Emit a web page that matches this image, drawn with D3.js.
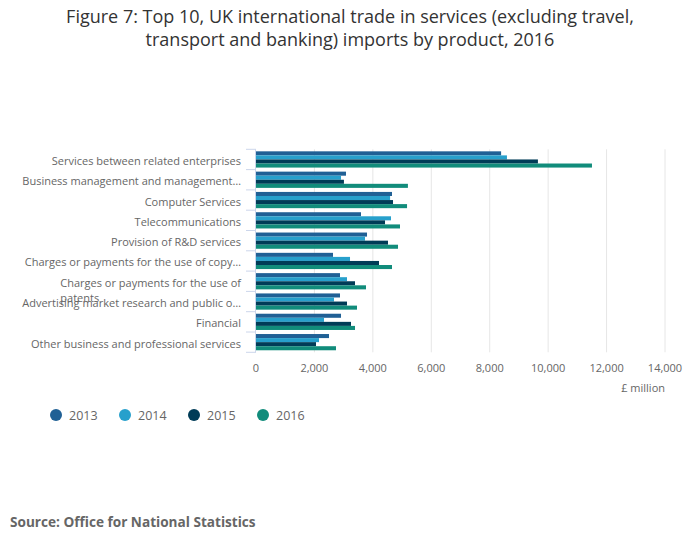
<!DOCTYPE html>
<html>
<head>
<meta charset="utf-8">
<script src="https://cdn.jsdelivr.net/npm/d3@7"></script>
<style>
  body { margin: 0; background: #fff; }
  svg { font-family: "Open Sans", sans-serif; }
</style>
</head>
<body>
<svg width="700" height="549"></svg>
<script>
// chart data
var categories = [
    "Services between related enterprises",
    "Business management and management\u2026",
    "Computer Services",
    "Telecommunications",
    "Provision of R&D services",
    "Charges or payments for the use of copy\u2026",
    "Charges or payments for the use of patents",
    "Advertising market research and public o\u2026",
    "Financial",
    "Other business and professional services"
];
var years = ["2013", "2014", "2015", "2016"];
var values2013 = [8390, 3080, 4655, 3594, 3800, 2636, 2875, 2875, 2910, 2499];
var values2014 = [8590, 2910, 4590, 4621, 3731, 3218, 3115, 2670, 2328, 2157];
var values2015 = [9650, 3010, 4690, 4416, 4518, 4210, 3389, 3115, 3252, 2054];
var values2016 = [11500, 5200, 5170, 4929, 4861, 4655, 3765, 3457, 3389, 2738];
var xTicks = [0, 2000, 4000, 6000, 8000, 10000, 12000, 14000];
var colours = ["#206095", "#27a0cc", "#003c57", "#118c7b"];

function main() {
    var svg = d3.select("svg");
    var seriesValues = [values2013, values2014, values2015, values2016];

    var left = 256, right = 665, top = 149.3, bottom = 352.3;

    // title
    var title = svg.append("text")
        .attr("text-anchor", "middle")
        .attr("font-size", "18px")
        .attr("fill", "#333333");
    title.append("tspan").attr("x", 350).attr("y", 23)
        .text("Figure 7: Top 10, UK international trade in services (excluding travel,");
    title.append("tspan").attr("x", 350).attr("y", 46)
        .text("transport and banking) imports by product, 2016");

    var xScale = d3.scaleLinear().domain([0, 14000]).range([left, right]);
    var yScale = d3.scaleBand().domain(categories).range([top, bottom]);
    var inner = d3.scaleBand().domain(years)
        .range([yScale.bandwidth() * 0.1, yScale.bandwidth() * 0.9]);

    // grid lines
    svg.append("g").selectAll("line")
        .data(xTicks.slice(1))
        .enter().append("line")
        .attr("x1", function (d) { return xScale(d); })
        .attr("x2", function (d) { return xScale(d); })
        .attr("y1", top)
        .attr("y2", bottom)
        .attr("stroke", "#e6e6e6")
        .attr("stroke-width", 1);

    // x tick labels
    svg.append("g").selectAll("text")
        .data(xTicks)
        .enter().append("text")
        .attr("x", function (d) { return xScale(d); })
        .attr("y", 372)
        .attr("text-anchor", "middle")
        .attr("font-size", "11px")
        .attr("fill", "#666666")
        .text(function (d) { return d3.format(",")(d); });

    svg.append("text")
        .attr("x", right)
        .attr("y", 392)
        .attr("text-anchor", "end")
        .attr("font-size", "11px")
        .attr("fill", "#666666")
        .text("\u00a3 million");

    // bars
    var groups = svg.append("g").selectAll("g")
        .data(categories)
        .enter().append("g")
        .attr("transform", function (d) { return "translate(0," + yScale(d) + ")"; });

    groups.selectAll("rect")
        .data(function (d, i) {
            return years.map(function (y, j) { return { year: y, value: seriesValues[j][i], k: j }; });
        })
        .enter().append("rect")
        .attr("x", xScale(0))
        .attr("y", function (d) { return inner(d.year); })
        .attr("width", function (d) { return xScale(d.value) - xScale(0); })
        .attr("height", inner.bandwidth())
        .attr("fill", function (d) { return colours[d.k]; });

    // y axis line and ticks
    svg.append("line")
        .attr("x1", left - 0.5).attr("x2", left - 0.5)
        .attr("y1", top).attr("y2", bottom)
        .attr("stroke", "#ccd6eb");
    var tickYs = categories.map(function (d) { return yScale(d); }).concat([bottom]);
    svg.append("g").selectAll("line")
        .data(tickYs)
        .enter().append("line")
        .attr("x1", left - 10).attr("x2", left)
        .attr("y1", function (d) { return d; })
        .attr("y2", function (d) { return d; })
        .attr("stroke", "#ccd6eb");

    // category labels
    var labels = svg.append("g").selectAll("text")
        .data(categories)
        .enter().append("text")
        .attr("x", 241)
        .attr("y", function (d) { return yScale(d) + yScale.bandwidth() / 2 + 5.5; })
        .attr("text-anchor", "end")
        .attr("font-size", "11px")
        .attr("fill", "#666666");

    labels.each(function (d) {
        var t = d3.select(this);
        if (d === "Charges or payments for the use of patents") {
            // wrapped label, second line spills over the next row as in the original
            var first = t.append("tspan").text("Charges or payments for the use of");
            var w = first.node().getComputedTextLength();
            t.attr("text-anchor", "start").attr("x", 241 - w);
            first.attr("x", 241 - w);
            t.append("tspan").attr("x", 241 - w).attr("dy", 15).text("patents");
        } else {
            t.text(d);
        }
    });

    // legend
    var legend = svg.append("g").selectAll("g")
        .data(years)
        .enter().append("g")
        .attr("transform", function (d, i) { return "translate(" + (56 + i * 69) + ",415)"; });
    legend.append("circle")
        .attr("r", 6)
        .attr("fill", function (d, i) { return colours[i]; });
    legend.append("text")
        .attr("x", 13)
        .attr("y", 5)
        .attr("font-size", "12.5px")
        .attr("fill", "#666666")
        .text(function (d) { return d; });

    // source
    svg.append("text")
        .attr("x", 10)
        .attr("y", 527)
        .attr("font-size", "13.6px")
        .attr("font-weight", "bold")
        .attr("fill", "#666666")
        .text("Source: Office for National Statistics");
}
main();
</script>
</body>
</html>
